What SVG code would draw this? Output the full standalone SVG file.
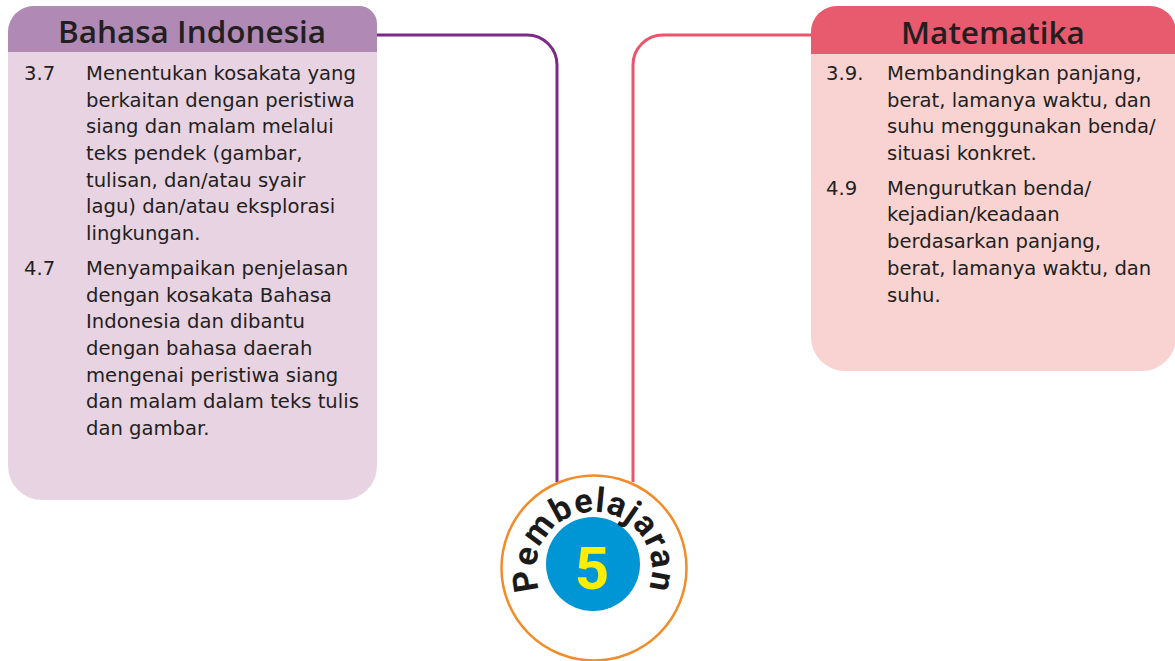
<svg xmlns="http://www.w3.org/2000/svg" width="1175" height="661" viewBox="0 0 1175 661">
  <style>
    .hdr { font-family: "Open Sans", "Noto Sans", sans-serif; font-weight: 600; font-size: 31.5px; fill: #231f20; text-anchor: middle; }
    .txt { font-family: "DejaVu Sans", "Open Sans", sans-serif; font-size: 19.6px; fill: #231f20; }
    .conn { fill: none; stroke-width: 3; }
    .arc { font-family: Roboto, "Liberation Sans", sans-serif; font-weight: 700; font-size: 34px; fill: #1a1a1a; letter-spacing: 1px; }
  </style>
  <defs>
    <!-- baseline circle for the ring lettering, r = 58 around the badge centre -->
    <path id="ringPath" d="M 541.5 594.5 A 58 58 0 1 1 646.5 594.5"/>
  </defs>
  <rect width="1175" height="661" fill="#ffffff"/>

  <!-- connectors -->
  <g id="connectors">
    <path class="conn" stroke="#7b2a87" d="M 377 35 H 527 A 30 30 0 0 1 557 65 V 482"/>
    <path class="conn" stroke="#e8566c" d="M 812 35 H 663 A 30 30 0 0 0 633 65 V 482"/>
  </g>

  <!-- Bahasa Indonesia -->
  <g id="bahasa-indonesia">
    <path d="M 8 32 A 26 26 0 0 1 34 6 H 359 A 18 18 0 0 1 377 24 V 466 A 34 34 0 0 1 343 500 H 42 A 34 34 0 0 1 8 466 Z" fill="#e8d3e3"/>
    <path d="M 8 52 V 32 A 26 26 0 0 1 34 6 H 359 A 18 18 0 0 1 377 24 V 52 Z" fill="#b08ab5"/>
    <text class="hdr" x="192" y="43">Bahasa Indonesia</text>
    <text class="txt">
      <tspan x="24" y="80">3.7</tspan>
      <tspan x="86" y="80">Menentukan kosakata yang</tspan>
      <tspan x="86" y="107">berkaitan dengan peristiwa</tspan>
      <tspan x="86" y="133">siang dan malam melalui</tspan>
      <tspan x="86" y="160">teks pendek (gambar,</tspan>
      <tspan x="86" y="187">tulisan, dan/atau syair</tspan>
      <tspan x="86" y="213">lagu) dan/atau eksplorasi</tspan>
      <tspan x="86" y="240">lingkungan.</tspan>
      <tspan x="24" y="275">4.7</tspan>
      <tspan x="86" y="275">Menyampaikan penjelasan</tspan>
      <tspan x="86" y="302">dengan kosakata Bahasa</tspan>
      <tspan x="86" y="328">Indonesia dan dibantu</tspan>
      <tspan x="86" y="355">dengan bahasa daerah</tspan>
      <tspan x="86" y="382">mengenai peristiwa siang</tspan>
      <tspan x="86" y="408">dan malam dalam teks tulis</tspan>
      <tspan x="86" y="435">dan gambar.</tspan>
    </text>
  </g>

  <!-- Matematika -->
  <g id="matematika">
    <path d="M 811 32 A 26 26 0 0 1 837 6 H 1150 A 26 26 0 0 1 1176 32 V 337 A 34 34 0 0 1 1142 371 H 845 A 34 34 0 0 1 811 337 Z" fill="#f8d3d2"/>
    <path d="M 811 54 V 32 A 26 26 0 0 1 837 6 H 1150 A 26 26 0 0 1 1176 32 V 54 Z" fill="#e85a6e"/>
    <text class="hdr" x="993" y="44">Matematika</text>
    <text class="txt">
      <tspan x="826" y="80">3.9.</tspan>
      <tspan x="887" y="80">Membandingkan panjang,</tspan>
      <tspan x="887" y="107">berat, lamanya waktu, dan</tspan>
      <tspan x="887" y="133">suhu menggunakan benda/</tspan>
      <tspan x="887" y="160">situasi konkret.</tspan>
      <tspan x="826" y="195">4.9</tspan>
      <tspan x="887" y="195">Mengurutkan benda/</tspan>
      <tspan x="887" y="221">kejadian/keadaan</tspan>
      <tspan x="887" y="248">berdasarkan panjang,</tspan>
      <tspan x="887" y="275">berat, lamanya waktu, dan</tspan>
      <tspan x="887" y="302">suhu.</tspan>
    </text>
  </g>

  <!-- Pembelajaran 5 badge -->
  <g id="pembelajaran-5">
    <circle cx="594" cy="568" r="92.5" fill="#ffffff" stroke="#f28c28" stroke-width="2.5"/>
    <circle cx="593" cy="564" r="47" fill="#0096d6"/>
    <text x="592" y="589" font-family="Roboto, 'Liberation Sans', sans-serif" font-weight="700" font-size="60" fill="#ffed00" text-anchor="middle">5</text>
    <text class="arc"><textPath href="#ringPath" startOffset="50%" text-anchor="middle">Pembelajaran</textPath></text>
  </g>
</svg>
